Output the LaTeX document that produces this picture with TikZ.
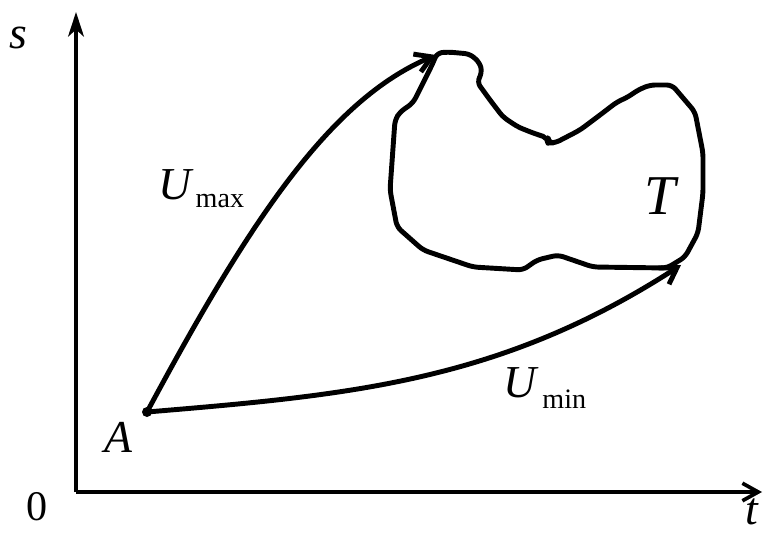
\documentclass[tikz,border=0pt]{standalone}
\usepackage{fontspec}
\setmainfont{Liberation Serif}
\usepackage{tikz}
\usetikzlibrary{arrows.meta, positioning, calc}

\begin{document}
\begin{tikzpicture}[x=0.02cm, y=-0.02cm,
  axis/.style={line width=2.1pt, -{Straight Barb[length=9pt, width=10pt, line width=2.1pt]}},
  yaxis/.style={line width=2.1pt, -{Stealth[length=14pt, width=9pt, inset=4pt]}},
  traj/.style={line width=2.8pt, -{Straight Barb[length=9pt, width=11pt, line width=2.8pt]}},
  lbl/.style={inner sep=0pt, font=\fontsize{26}{30}\selectfont\itshape},
  sub/.style={inner sep=0pt, font=\fontsize{16}{18}\selectfont},
]
  \useasboundingbox (0,0) rectangle (767,533);
  % axes
  \coordinate (O) at (76,492);
  \coordinate (stop) at (76,12);
  \coordinate (tend) at (762,492);
  \draw[yaxis] (O) -- (stop);
  \draw[axis] (O) -- (tend);
  \node[lbl] (s) at (18,38) {s};
  \node[lbl] (t) at (752,512) {t};
  \node[inner sep=0pt, font=\fontsize{24}{28}\selectfont] (zero) at (37,507) {0};
  % target set
  \draw[line width=2.8pt, line join=round, rounded corners=3]
    (437,53) -- (448,52) -- (470,54) -- (480,63) -- (482,73) -- (477,82)
    -- (490,100) -- (503,117) -- (518,127) -- (533,133) -- (548,138)
    -- (548,143) -- (555,143) -- (580,130) -- (600,115) -- (617,102)
    -- (628,97) -- (638,90) -- (650,85) -- (672,85) -- (695,112)
    -- (703,153) -- (703,193) -- (698,233) -- (685,257) -- (667,268)
    -- (593,267) -- (558,255) -- (537,260) -- (523,270) -- (473,267)
    -- (423,250) -- (397,227) -- (390,190) -- (395,120) -- (400,112)
    -- (413,103) -- (433,63) -- cycle;
  \node[lbl, font=\fontsize{32}{36}\selectfont\itshape] (T) at (660,196) {T};
  % start point and trajectories
  \coordinate (A) at (147,412);
  \coordinate (Tup) at (436,55);
  \coordinate (Tlow) at (681,265);
  \fill (A) circle (5);
  \node[lbl] (Alab) at (118,437) {A};
  \draw[traj] (A) .. controls (250,220) and (330,100) .. (Tup);
  \draw[traj] (A) .. controls (350,395) and (500,382) .. (Tlow);
  \node[lbl] (Umax) at (175,185) {U};
  \node[sub, right=2pt of Umax, yshift=-9pt] (max) {max};
  \node[lbl] (Umin) at (520,383) {U};
  \node[sub, right=3pt of Umin, yshift=-9pt] (min) {min};
\end{tikzpicture}
\end{document}
